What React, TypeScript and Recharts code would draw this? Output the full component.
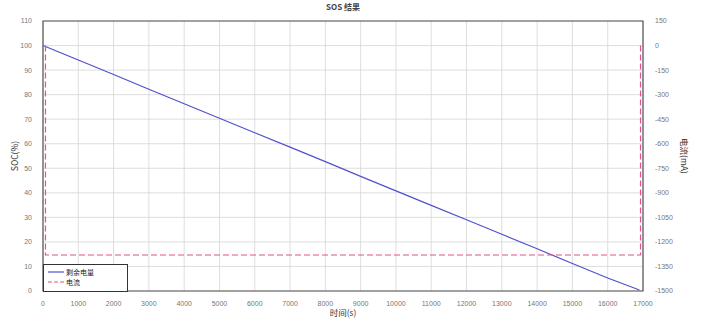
import React from 'react';
import {
  ComposedChart, Line, XAxis, YAxis, CartesianGrid, ReferenceArea,
} from 'recharts';

// 剩余电量 (SOC) read every 1000 s
const socTimes = [0, 1000, 2000, 3000, 4000, 5000, 6000, 7000, 8000, 9000, 10000, 11000, 12000, 13000, 14000, 15000, 16000, 16900];
const socValues = [100, 94.1, 88.2, 82.2, 76.3, 70.4, 64.5, 58.6, 52.7, 46.7, 40.8, 34.9, 29.0, 23.1, 17.2, 11.2, 5.3, 0.4];

// 电流 (mA)
const currentTimes = [70, 70, 16930, 16930];
const currentValues = [0, -1280, -1280, 0];

const xTicks = [0, 1000, 2000, 3000, 4000, 5000, 6000, 7000, 8000, 9000, 10000, 11000, 12000, 13000, 14000, 15000, 16000, 17000];
const socTicks = [0, 10, 20, 30, 40, 50, 60, 70, 80, 90, 100, 110];
const currentTicks = [150, 0, -150, -300, -450, -600, -750, -900, -1050, -1200, -1350, -1500];

const socData = socTimes.map((t, i) => ({ t, soc: socValues[i] }));
const currentData = currentTimes.map((t, i) => ({ t, current: currentValues[i] }));

const blue = '#5050d0';
const pink = '#e8508f';

const tickStyle = { fontSize: 7, fill: '#777', fontFamily: 'Liberation Sans, Arial, sans-serif' };
const labelStyle = { fontSize: 8.5, fill: '#333', fontFamily: 'Noto Sans CJK SC, sans-serif' };

const LegendBox = () => (
  <div style={{
    position: 'absolute', left: 43, top: 264, width: 85, height: 28, border: '1px solid #333', background: '#fff',
    boxSizing: 'border-box', fontSize: 7, fontFamily: 'Noto Sans CJK SC, serif', color: '#222',
    padding: '2px 0 0 4px', lineHeight: '10px', zIndex: 2,
  }}>
    <div style={{ display: 'flex', alignItems: 'center' }}>
      <svg width={16} height={8}><line x1={0} y1={4} x2={16} y2={4} stroke={blue} strokeWidth={1.2} /></svg>
      <span style={{ marginLeft: 2 }}>剩余电量</span>
    </div>
    <div style={{ display: 'flex', alignItems: 'center' }}>
      <svg width={16} height={8}><line x1={0} y1={4} x2={16} y2={4} stroke={pink} strokeWidth={1.2} strokeDasharray="4 2" /></svg>
      <span style={{ marginLeft: 2 }}>电流</span>
    </div>
  </div>
);

export default function App() {
  return (
    <div style={{ position: 'absolute', left: 0, top: 0, width: 721, height: 328, background: '#fff' }}>
      <div style={{
        position: 'absolute', left: 0, top: 1, width: 686, textAlign: 'center',
        fontSize: 8, fontWeight: 'bold', fontFamily: 'Noto Sans CJK SC, serif', color: '#444', zIndex: 2,
      }}>
        SOS 结果
      </div>
      <ComposedChart width={721} height={328} margin={{ top: 21, right: 0, bottom: 0, left: 0 }}>
        <CartesianGrid stroke="#d6d6d6" strokeWidth={0.8} yAxisId="soc" />
        <XAxis
          dataKey="t" type="number" domain={[0, 17000]} ticks={xTicks} interval={0}
          height={37} tick={tickStyle} tickLine={false} axisLine={false} tickMargin={4}
          label={{ value: '时间(s)', position: 'insideBottom', offset: 12, style: labelStyle }}
        />
        <YAxis
          yAxisId="soc" domain={[0, 110]} ticks={socTicks} interval={0} width={43}
          tick={tickStyle} tickLine={false} axisLine={false} tickMargin={5}
          label={{ value: 'SOC(%)', angle: -90, position: 'center', dx: -7, style: labelStyle }}
        />
        <YAxis
          yAxisId="cur" orientation="right" domain={[-1500, 150]} ticks={currentTicks} interval={0} width={78}
          tick={{ ...tickStyle, textAnchor: 'start' }} tickLine={false} axisLine={false} tickMargin={6}
          label={{ value: '电流(mA)', angle: 90, position: 'center', dx: 2, style: labelStyle }}
        />
        <ReferenceArea yAxisId="soc" x1={0} x2={17000} y1={0} y2={110} fill="none" stroke="#555" strokeWidth={1.2} ifOverflow="visible" />
        <Line
          yAxisId="soc" data={socData} dataKey="soc" type="linear" stroke={blue} strokeWidth={1.2}
          dot={false} isAnimationActive={false} name="剩余电量"
        />
        <Line
          yAxisId="cur" data={currentData} dataKey="current" type="linear" stroke={pink} strokeWidth={1.2}
          strokeDasharray="6 3" dot={false} isAnimationActive={false} name="电流"
        />
      </ComposedChart>
      <LegendBox />
    </div>
  );
}
